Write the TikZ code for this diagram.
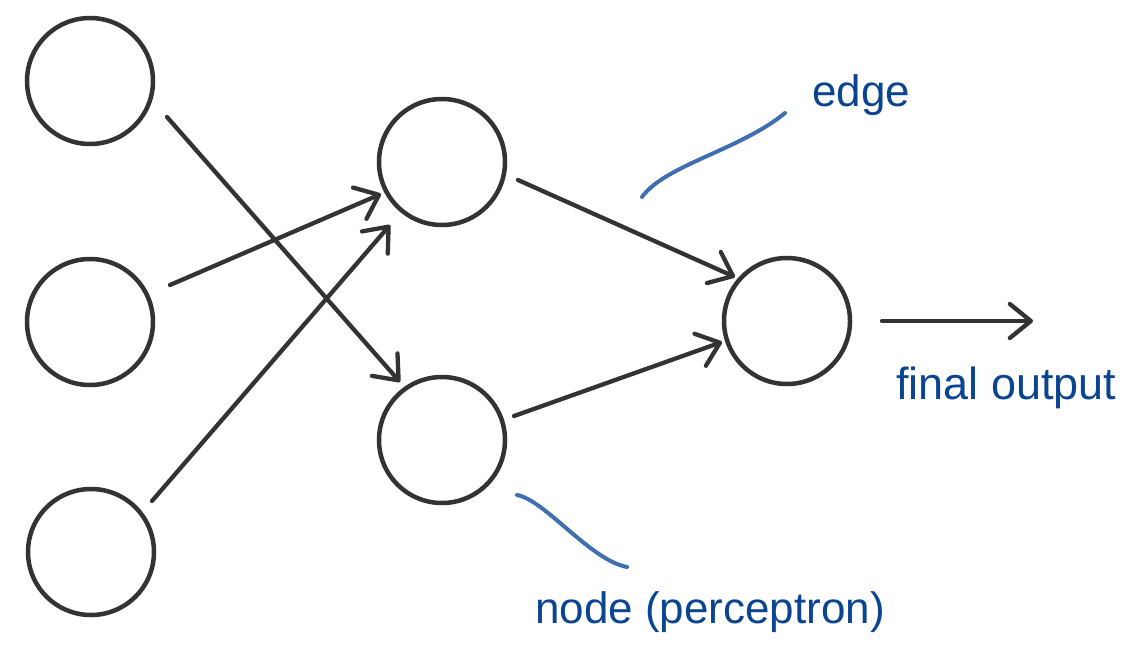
\documentclass[tikz,border=0pt]{standalone}
\usepackage{fontspec}
\setmainfont{Liberation Sans}
\usetikzlibrary{arrows.meta,calc}
\definecolor{ink}{HTML}{333333}
\definecolor{lblue}{HTML}{0B4592}
\definecolor{sblue}{HTML}{3F6FB0}
\begin{document}
\begin{tikzpicture}[x=1pt,y=-1pt,
  neuron/.style={circle,draw=ink,line width=4.5pt,minimum size=126pt,inner sep=0pt,outer sep=0pt},
  arr/.style={draw=ink,line width=4.3pt,line cap=round,-{Straight Barb[length=21pt,width=34pt,round]}},
  lbl/.style={text=lblue,font=\fontsize{44}{50}\selectfont,inner sep=0pt,anchor=base west},
  callout/.style={draw=sblue,line width=4pt,line cap=round}]
\useasboundingbox (0,0) rectangle (1131,654);
\node[neuron] (in1) at (90,81) {};
\node[neuron] (in2) at (90,322) {};
\node[neuron] (in3) at (91,552) {};
\node[neuron] (h1) at (442,162) {};
\node[neuron] (h2) at (442,440) {};
\node[neuron] (out) at (787,321) {};
\coordinate (fin) at (1033,321);
\draw[arr] ($(in1)+(77,36)$) -- ($(h2)+(-42,-58)$);
\draw[arr] ($(in2)+(80,-37)$) -- ($(h1)+(-61,32)$);
\draw[arr] ($(in3)+(61,-51)$) -- ($(h1)+(-52,63)$);
\draw[arr] ($(h1)+(76,18)$) -- ($(out)+(-52,-44)$);
\draw[arr] ($(h2)+(72,-24)$) -- ($(out)+(-65,21)$);
\draw[arr] ($(out)+(95,0)$) -- (fin);
\node[lbl] (edge) at (812,106) {edge};
\node[lbl,font=\fontsize{45}{50}\selectfont] (final) at (896,399) {final output};
\node[lbl] (nodelbl) at (535,623) {node (perceptron)};
\draw[callout] (642,197) .. controls (665,165) and (740,150) .. (785,113);
\draw[callout] (517,495) .. controls (545,500) and (590,560) .. (627,567);
\end{tikzpicture}
\end{document}
